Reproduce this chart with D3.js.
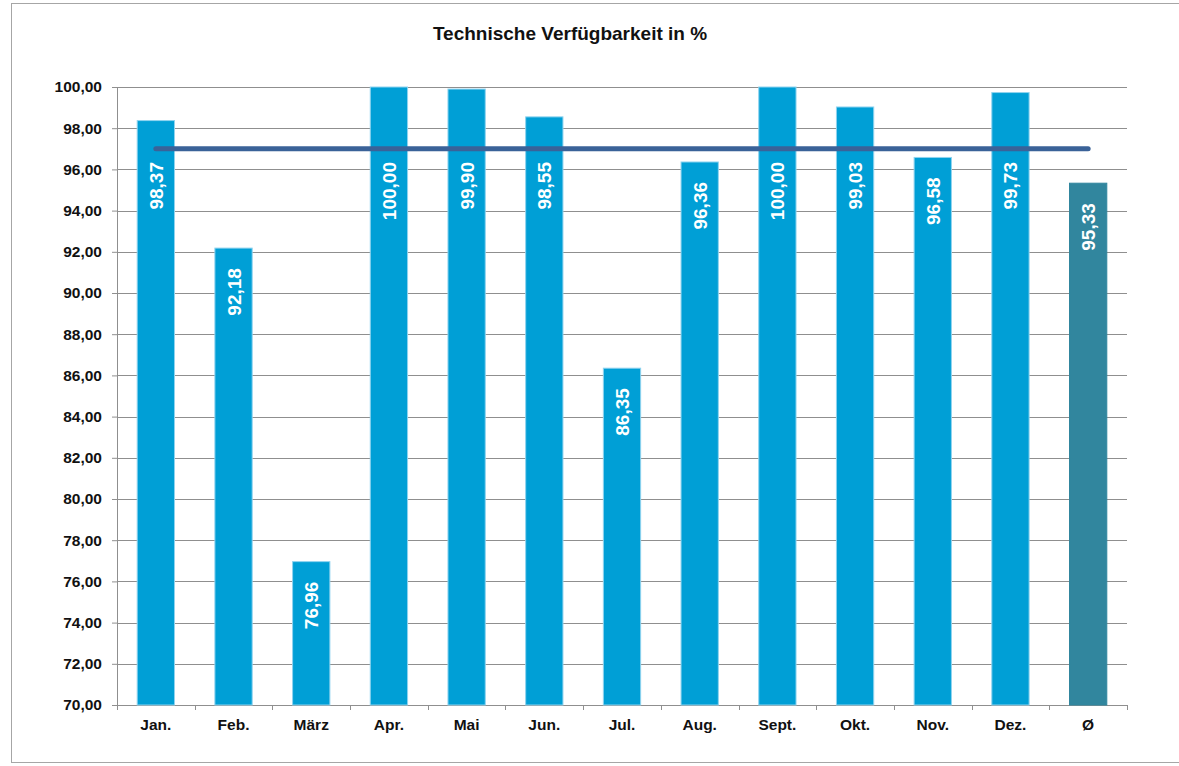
<!DOCTYPE html>
<html>
<head>
<meta charset="utf-8">
<script src="https://cdn.jsdelivr.net/npm/d3@7"></script>
<style>
  body { margin:0; background:#fff; }
  svg text { font-family: "Liberation Sans", Arial, sans-serif; font-weight:bold; }
</style>
</head>
<body>
<div id="plot"></div>
<script>
// months + average
var categories = ['Jan.','Feb.','März','Apr.','Mai','Jun.','Jul.','Aug.','Sept.','Okt.','Nov.','Dez.','Ø'];
var values = [98.37, 92.18, 76.96, 100.00, 99.90, 98.55, 86.35, 96.36, 100.00, 99.03, 96.58, 99.73, 95.33];
var target = 97;
var yTicks = [70,72,74,76,78,80,82,84,86,88,90,92,94,96,98,100];
var title = 'Technische Verfügbarkeit in %';

var W = 1179, H = 766;
var margin = {t:87, r:52, b:61, l:117};
var width = W - margin.l - margin.r,
    height = H - margin.t - margin.b;

var svg = d3.select('#plot').append('svg')
    .attr('width', W)
    .attr('height', H);

// outer frame
svg.append('rect')
    .attr('x', 11.5).attr('y', 3.5)
    .attr('width', W).attr('height', 759)
    .attr('fill', 'none')
    .attr('stroke', '#a6a6a6');

svg.append('text')
    .attr('x', 570).attr('y', 40)
    .attr('text-anchor', 'middle')
    .attr('font-size', 19)
    .attr('fill', '#111')
    .text(title);

var plot = svg.append('g')
    .attr('transform', 'translate(' + margin.l + ',' + margin.t + ')');

var x = d3.scaleBand().domain(categories).range([0, width]).paddingInner(0.52).paddingOuter(0.26);
var xb = d3.scaleBand().domain(categories).range([0, width]);
var y = d3.scaleLinear().domain([70, 100]).range([height, 0]);

var fmt = function(v){ return d3.format('.2f')(v).replace('.', ','); };

// gridlines
plot.selectAll('.grid').data(yTicks.slice(1)).enter()
    .append('line')
    .attr('x1', 0).attr('x2', width)
    .attr('y1', d => Math.round(y(d)) + 0.5).attr('y2', d => Math.round(y(d)) + 0.5)
    .attr('stroke', '#8f8f8f');

// y axis
var yAxis = plot.append('g')
    .call(d3.axisLeft(y).tickValues(yTicks).tickSize(5).tickPadding(10).tickFormat(fmt));
yAxis.selectAll('text').attr('font-size', 15.5).attr('fill', '#111');
yAxis.selectAll('line, path').attr('stroke', '#8f8f8f');

// x axis
var xAxis = plot.append('g')
    .attr('transform', 'translate(0,' + height + ')')
    .call(d3.axisBottom(xb).tickSize(0).tickPadding(14));
xAxis.selectAll('text').attr('font-size', 15.5).attr('fill', '#111');
xAxis.select('path').attr('stroke', '#8f8f8f');
plot.selectAll('.xtick').data(d3.range(categories.length + 1)).enter()
    .append('line')
    .attr('x1', d => Math.round(d * xb.step()) + 0.5).attr('x2', d => Math.round(d * xb.step()) + 0.5)
    .attr('y1', height).attr('y2', height + 5)
    .attr('stroke', '#8f8f8f');

// bars
plot.selectAll('.bar').data(values).enter()
    .append('rect')
    .attr('x', (d, i) => x(categories[i]))
    .attr('y', d => y(d))
    .attr('width', x.bandwidth())
    .attr('height', d => height - y(d))
    .attr('fill', (d, i) => i === values.length - 1 ? '#31869e' : '#009fd6')
    .attr('stroke', (d, i) => i === values.length - 1 ? '#31869e' : '#8fd3ef')
    .attr('stroke-width', 1);

// target line
plot.append('line')
    .attr('x1', xb(categories[0]) + xb.bandwidth() / 2)
    .attr('x2', xb(categories[categories.length - 1]) + xb.bandwidth() / 2)
    .attr('y1', y(target)).attr('y2', y(target))
    .attr('stroke', '#3a6298')
    .attr('stroke-width', 5)
    .attr('stroke-linecap', 'round');

// value labels, rotated
plot.selectAll('.lbl').data(values).enter()
    .append('text')
    .attr('transform', function(d, i){
        var cx = x(categories[i]) + x.bandwidth() / 2 + 7;
        var top = Math.max(y(d) + 20, 75);
        return 'translate(' + cx + ',' + top + ') rotate(-90)';
    })
    .attr('text-anchor', 'end')
    .attr('font-size', 19)
    .attr('fill', '#fff')
    .text(fmt);
</script>
</body>
</html>
